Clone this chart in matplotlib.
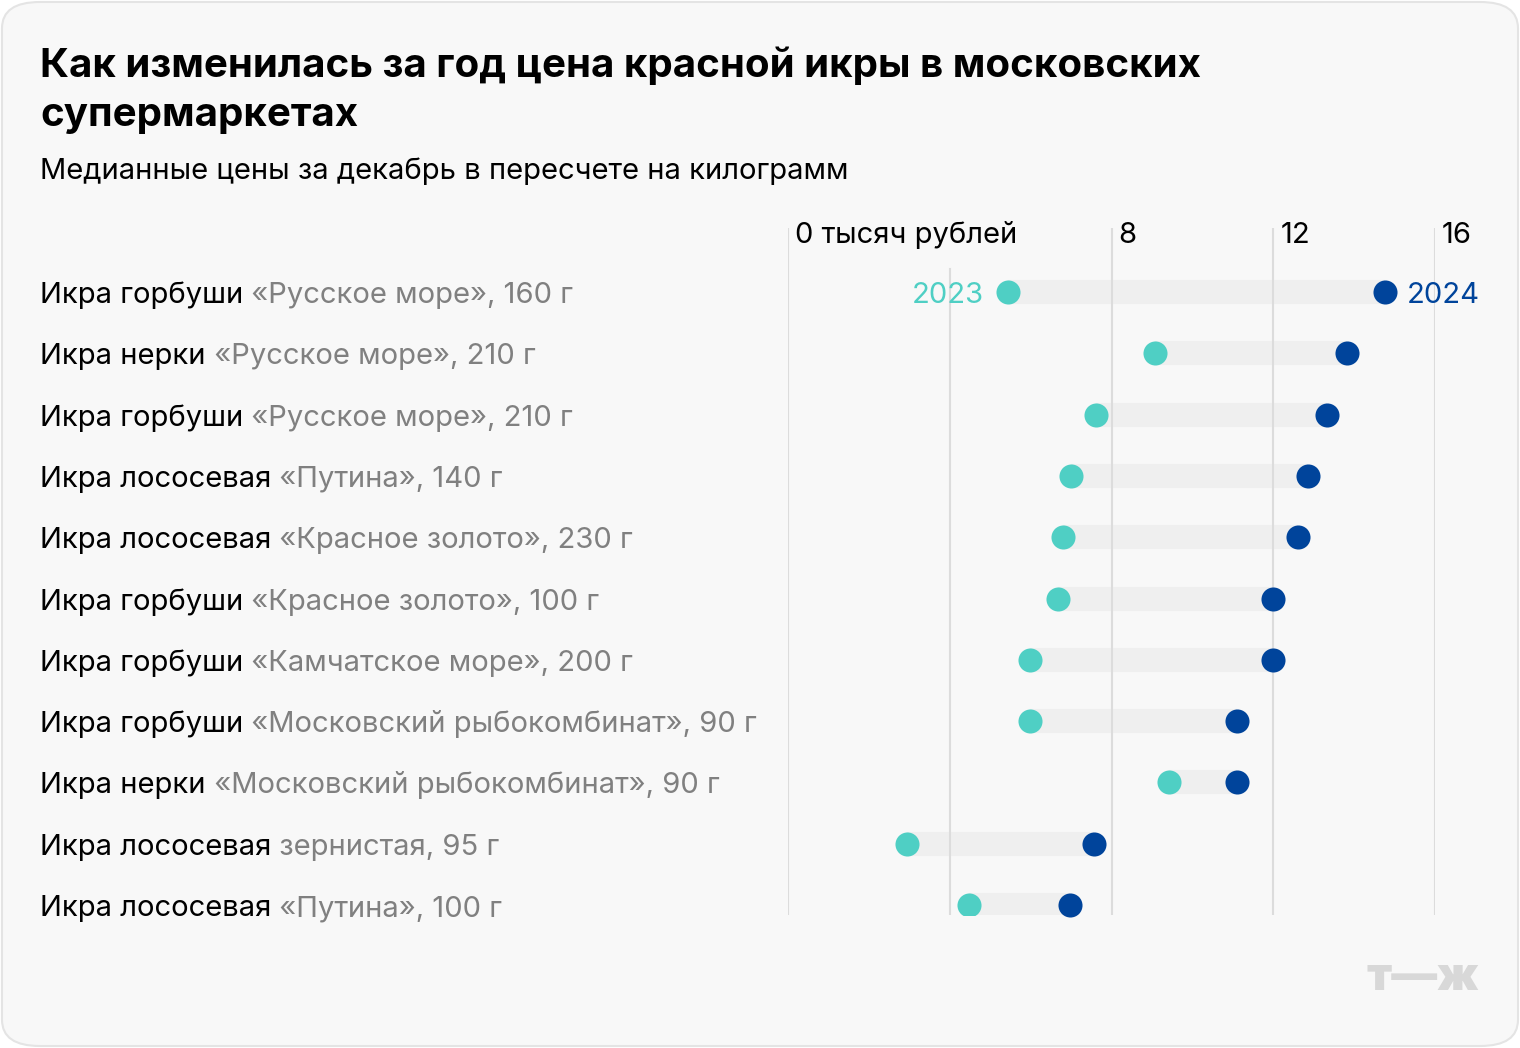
import matplotlib.pyplot as plt
from matplotlib import transforms
from matplotlib.patches import FancyBboxPatch

plt.rcParams['font.family'] = ['Inter', 'DejaVu Sans']

# Данные (тысяч рублей за кг)
kinds = ['Икра горбуши', 'Икра нерки', 'Икра горбуши', 'Икра лососевая',
         'Икра лососевая', 'Икра горбуши', 'Икра горбуши', 'Икра горбуши',
         'Икра нерки', 'Икра лососевая', 'Икра лососевая']
brands = ['«Русское море», 160 г', '«Русское море», 210 г', '«Русское море», 210 г',
          '«Путина», 140 г', '«Красное золото», 230 г', '«Красное золото», 100 г',
          '«Камчатское море», 200 г', '«Московский рыбокомбинат», 90 г',
          '«Московский рыбокомбинат», 90 г', 'зернистая, 95 г', '«Путина», 100 г']
p2023 = [5.44, 9.07, 7.62, 7.0, 6.8, 6.68, 5.98, 5.98, 9.42, 2.94, 4.48]
p2024 = [14.76, 13.82, 13.33, 12.86, 12.61, 12.0, 12.0, 11.1, 11.1, 7.57, 6.97]
ticks = [0, 4, 8, 12, 16]
tick_labels = ['0 тысяч рублей', '', '8', '12', '16']

TEAL = '#4fcfc4'
BLUE = '#00449b'
GRAY = '#808080'
FS = 21

W, H = 1520, 1048
fig = plt.figure(figsize=(W / 100, H / 100), dpi=100)
fig.patch.set_facecolor('white')

# фон-карточка
card = FancyBboxPatch((2 / W, 2 / H), 1 - 4 / W, 1 - 4 / H,
                      boxstyle='round,pad=0,rounding_size=0.025',
                      transform=fig.transFigure, facecolor='#f8f8f8',
                      edgecolor='#e4e4e4', linewidth=1.5, zorder=-5)
fig.patches.append(card)

fig.text(40 / W, 1 - 77 / H, 'Как изменилась за год цена красной икры в московских',
         fontsize=29, fontweight='bold', color='black', va='baseline')
fig.text(40 / W, 1 - 126 / H, 'супермаркетах',
         fontsize=29, fontweight='bold', color='black', va='baseline')
fig.text(40 / W, 1 - 179 / H, 'Медианные цены за декабрь в пересчете на килограмм',
         fontsize=FS, color='black', va='baseline')

# оси
ax_top, ax_bot = 228, 915
ax = fig.add_axes([788 / W, 1 - ax_bot / H, (1435 - 788) / W, (ax_bot - ax_top) / H])
ax.set_facecolor('none')
n = len(kinds)
row_px = (905 - 292) / (n - 1)
ax.set_xlim(0, 16)
ax.set_ylim(n - 1 + (ax_bot - 905) / row_px, -(292 - ax_top) / row_px)
for s in ax.spines.values():
    s.set_visible(False)
ax.set_xticks([])
ax.set_yticks([])

# сетка
for t in ticks:
    ax.axvline(t, ymin=0, ymax=0.94 if t == 4 else 1, color='#dcdcdc', lw=1.5, zorder=2)

xt = transforms.blended_transform_factory(ax.transData, ax.transAxes)
for t, lab in zip(ticks, tick_labels):
    ax.text(t, 1, lab, transform=transforms.offset_copy(xt, fig, x=7, y=-15, units='dots'),
            fontsize=FS, color='black', ha='left', va='baseline')

rows = list(range(n))
for y, a, b in zip(rows, p2023, p2024):
    ax.plot([a, b], [y, y], color='#efefef', lw=17.3, solid_capstyle='butt', zorder=1)
ax.scatter(p2023, rows, s=300, color=TEAL, zorder=3, linewidths=0)
ax.scatter(p2024, rows, s=300, color=BLUE, zorder=3, linewidths=0, clip_on=False)

ax.annotate('2023', (p2023[0], 0), xytext=(-17, -8), textcoords='offset points',
            ha='right', va='baseline', fontsize=FS, color=TEAL)
ax.annotate('2024', (p2024[0], 0), xytext=(16, -8), textcoords='offset points',
            ha='left', va='baseline', fontsize=FS, color=BLUE, annotation_clip=False)

# подписи строк
lt = transforms.blended_transform_factory(fig.transFigure, ax.transData)
lt = transforms.offset_copy(lt, fig, y=-11, units='dots')
for y, k, b in zip(rows, kinds, brands):
    t1 = fig.text(40 / W, y, k, transform=lt, fontsize=FS, color='black',
                  ha='left', va='baseline')
    fig.add_artist(plt.Annotation(' ' + b, xy=(1, 0), xycoords=t1, ha='left',
                                  va='bottom', fontsize=FS, color=GRAY))

# логотип
fig.text(1479 / W, 1 - 978 / H, 'т—ж', fontsize=33, fontweight='black',
         color='#d8d8d8', ha='right', va='center')

fig.savefig('out.png', dpi=100)
